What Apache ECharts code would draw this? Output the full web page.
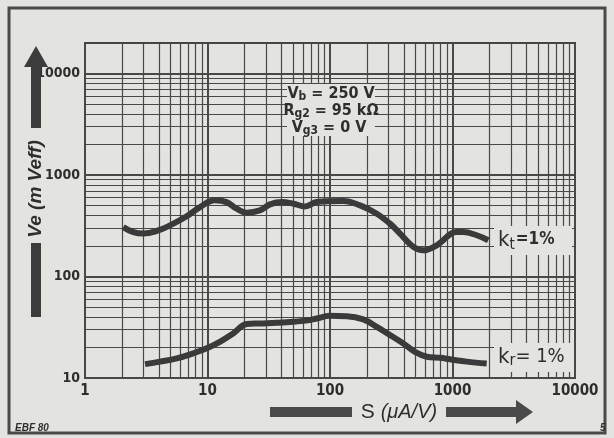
<!DOCTYPE html>
<html>
<head>
<meta charset="utf-8">
<script src="https://cdn.jsdelivr.net/npm/echarts@6/dist/echarts.min.js"></script>
<style>
  html, body { margin: 0; padding: 0; background: #e3e3e0; }
  #chart { width: 614px; height: 438px; }
</style>
</head>
<body>
<div id="chart"></div>
<script>
// axis labels
var xLabels = ['1', '10', '100', '1000', '10000']
var yLabels = ['10', '100', '1000', '10000']

// k_t = 1 % curve
var ktS = [2.05, 2.48, 2.99, 3.85, 4.94, 6.77, 8.69, 11.5, 14.3, 17.3, 20.9, 26.8, 32.4, 40.3, 50.2, 62.5, 77.9, 128, 176, 241, 309, 373, 479, 578, 743, 1082, 1225, 1576, 1960]
var ktV = [307, 274, 265, 281, 319, 392, 484, 563, 541, 466, 426, 449, 514, 541, 522, 491, 541, 554, 502, 416, 332, 265, 196, 181, 203, 274, 274, 255, 228]

// k_r = 1 % curve
var krS = [3.09, 4.09, 5.61, 7.66, 9.85, 12.6, 16.2, 20.9, 26.8, 36.7, 50.2, 68.6, 77.9, 100, 137, 187, 241, 309, 397, 494, 616, 791, 954, 1306, 1902]
var krV = [13.7, 14.5, 15.6, 17.5, 19.6, 22.7, 27.5, 34.0, 34.5, 35.0, 35.8, 37.2, 38.6, 41.0, 40.7, 37.8, 31.9, 26.5, 21.9, 18.1, 16.2, 15.8, 15.3, 14.5, 13.9]

var paper = '#e3e3e0'
var ink = '#3a3a3a'
var gridInk = '#484848'
var font = "'Liberation Sans', Arial, sans-serif"
var narrow = "'DejaVu Sans Condensed', 'DejaVu Sans', sans-serif"

// log paper lines 1..9 x 10^k
var steps = [1, 2, 3, 4, 5, 6, 7, 8, 9]
var xGrid = []
;[1, 10, 100, 1000].forEach(function(d) { steps.forEach(function(n) { xGrid.push(n * d) }) })
xGrid.push(10000)
var yGrid = []
;[10, 100, 1000].forEach(function(d) { steps.forEach(function(n) { yGrid.push(n * d) }) })
yGrid.push(10000)

function isDecade(v) { return Math.abs(Math.log10(v) % 1) < 1e-9 }

var gridLines = xGrid.map(function(v) {
  return { xAxis: v, lineStyle: { width: isDecade(v) ? 2 : 1.2 } }
}).concat(yGrid.map(function(v) {
  return { yAxis: v, lineStyle: { width: isDecade(v) ? 2.2 : 1.2 } }
}))

function pairs(xs, ys) { return xs.map(function(x, i) { return [x, ys[i]] }) }

var myChart = echarts.init(document.getElementById('chart'))
var option = {
  backgroundColor: paper,
  animation: false,
  grid: {
    left: 85, right: 39, top: 43, bottom: 60,
    outerBoundsMode: 'none',
    show: true, borderColor: '#444', borderWidth: 2
  },
  xAxis: {
    type: 'log', logBase: 10, min: 1, max: 10000,
    axisLine: { lineStyle: { color: '#444', width: 2 } },
    axisTick: { show: false },
    splitLine: { show: false },
    axisLabel: {
      margin: 6, color: '#2e2e2e', fontFamily: narrow, fontWeight: 'bold', fontSize: 15,
      formatter: function(v) {
        var i = Math.round(Math.log10(v))
        return isDecade(v) && xLabels[i] ? xLabels[i] : ''
      }
    }
  },
  yAxis: {
    type: 'log', logBase: 10, min: 10, max: 20000,
    axisLine: { lineStyle: { color: '#444', width: 2 } },
    axisTick: { show: false },
    splitLine: { show: false },
    axisLabel: {
      margin: 5, color: '#2e2e2e', fontFamily: narrow, fontWeight: 'bold', fontSize: 14,
      formatter: function(v) {
        var i = Math.round(Math.log10(v)) - 1
        return isDecade(v) && yLabels[i] ? yLabels[i] : ''
      }
    }
  },
  series: [
    {
      type: 'line', data: [], silent: true, z: 1,
      markLine: {
        silent: true, symbol: ['none', 'none'], label: { show: false },
        lineStyle: { type: 'solid', color: gridInk, width: 1.2 },
        emphasis: { disabled: true },
        data: gridLines
      }
    },
    {
      type: 'line', name: 'kt', data: pairs(ktS, ktV), smooth: 0.4, showSymbol: false, z: 5,
      lineStyle: { color: ink, width: 6 }
    },
    {
      type: 'line', name: 'kr', data: pairs(krS, krV), smooth: 0.4, showSymbol: false, z: 5,
      lineStyle: { color: ink, width: 6 }
    }
  ],
  graphic: [
    // outer frame
    { type: 'rect', z: 1, shape: { x: 9, y: 8, width: 596, height: 425 }, style: { fill: 'none', stroke: '#4a4a4a', lineWidth: 3 } },
    // y arrow and title
    { type: 'polygon', z: 10, shape: { points: [[24, 67], [36, 46], [48, 67]] }, style: { fill: '#3c3c3c' } },
    { type: 'rect', z: 10, shape: { x: 31, y: 66, width: 10, height: 62 }, style: { fill: '#3c3c3c' } },
    { type: 'rect', z: 10, shape: { x: 31, y: 243, width: 10, height: 74 }, style: { fill: '#3c3c3c' } },
    {
      type: 'text', z: 10, x: 36, y: 189, rotation: Math.PI / 2,
      style: {
        text: 'Ve (m Veff)', align: 'center', verticalAlign: 'middle',
        fontFamily: font, fontWeight: 'bold', fontStyle: 'italic', fontSize: 19, fill: '#2e2e2e'
      }
    },
    // x arrow and title
    { type: 'rect', z: 10, shape: { x: 270, y: 407, width: 82, height: 10 }, style: { fill: '#4a4a4a' } },
    { type: 'rect', z: 10, shape: { x: 446, y: 407, width: 72, height: 10 }, style: { fill: '#4a4a4a' } },
    { type: 'polygon', z: 10, shape: { points: [[516, 400], [533, 412], [516, 424]] }, style: { fill: '#4a4a4a' } },
    {
      type: 'text', z: 10, x: 399, y: 412,
      style: {
        text: '{s|S }{i|(μA/V)}', align: 'center', verticalAlign: 'middle',
        rich: {
          s: { fontFamily: font, fontSize: 21, fill: '#2e2e2e' },
          i: { fontFamily: font, fontSize: 20, fontStyle: 'italic', fill: '#2e2e2e' }
        }
      }
    },
    // conditions box
    { type: 'rect', z: 20, shape: { x: 287, y: 84, width: 88, height: 52 }, style: { fill: paper } },
    {
      type: 'text', z: 21, x: 331, y: 94,
      style: {
        text: '{m|V}{s|b}{m| = 250 V}', align: 'center', verticalAlign: 'middle',
        rich: {
          m: { fontFamily: narrow, fontWeight: 'bold', fontSize: 16, fill: '#2e2e2e' },
          s: { fontFamily: narrow, fontWeight: 'bold', fontSize: 12, fill: '#2e2e2e', padding: [6, 0, 0, 0] }
        }
      }
    },
    {
      type: 'text', z: 21, x: 331, y: 111,
      style: {
        text: '{m|R}{s|g2}{m| = 95 kΩ}', align: 'center', verticalAlign: 'middle',
        rich: {
          m: { fontFamily: narrow, fontWeight: 'bold', fontSize: 16, fill: '#2e2e2e' },
          s: { fontFamily: narrow, fontWeight: 'bold', fontSize: 12, fill: '#2e2e2e', padding: [6, 0, 0, 0] }
        }
      }
    },
    {
      type: 'text', z: 21, x: 329, y: 128,
      style: {
        text: '{m|V}{s|g3}{m| = 0 V}', align: 'center', verticalAlign: 'middle',
        rich: {
          m: { fontFamily: narrow, fontWeight: 'bold', fontSize: 16, fill: '#2e2e2e' },
          s: { fontFamily: narrow, fontWeight: 'bold', fontSize: 12, fill: '#2e2e2e', padding: [6, 0, 0, 0] }
        }
      }
    },
    // curve labels
    { type: 'rect', z: 20, shape: { x: 494, y: 226, width: 78, height: 29 }, style: { fill: paper } },
    {
      type: 'text', z: 21, x: 498, y: 240,
      style: {
        text: '{m|k}{s|t}{e|=1%}', align: 'left', verticalAlign: 'middle',
        rich: {
          m: { fontFamily: narrow, fontSize: 22, fill: '#2e2e2e' },
          s: { fontFamily: narrow, fontSize: 15, fill: '#2e2e2e', padding: [10, 1, 0, 0] },
          e: { fontFamily: narrow, fontWeight: 'bold', fontSize: 17, fill: '#2e2e2e' }
        }
      }
    },
    { type: 'rect', z: 20, shape: { x: 494, y: 343, width: 80, height: 29 }, style: { fill: paper } },
    {
      type: 'text', z: 21, x: 498, y: 357,
      style: {
        text: '{m|k}{s|r}{e|= 1%}', align: 'left', verticalAlign: 'middle',
        rich: {
          m: { fontFamily: narrow, fontSize: 22, fill: '#2e2e2e' },
          s: { fontFamily: narrow, fontSize: 16, fill: '#2e2e2e', padding: [8, 0, 0, 0] },
          e: { fontFamily: narrow, fontSize: 20, fill: '#2e2e2e' }
        }
      }
    },
    // corner marks
    { type: 'text', z: 10, x: 15, y: 428, style: { text: 'EBF 80', fontFamily: font, fontSize: 10, fontWeight: 'bold', fontStyle: 'italic', fill: '#2e2e2e', verticalAlign: 'middle' } },
    { type: 'text', z: 10, x: 600, y: 428, style: { text: '5', fontFamily: font, fontSize: 10, fontWeight: 'bold', fontStyle: 'italic', fill: '#2e2e2e', verticalAlign: 'middle' } }
  ]
}
myChart.setOption(option)
</script>
</body>
</html>
